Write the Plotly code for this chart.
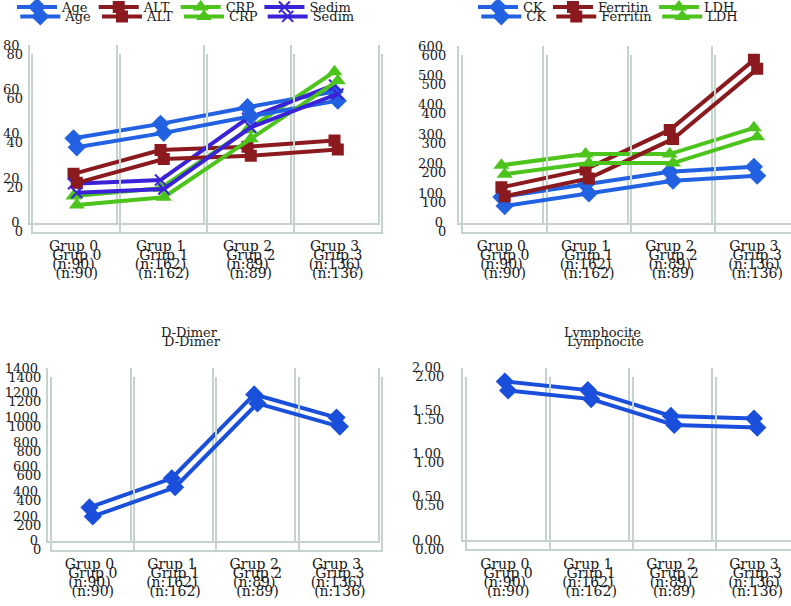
import plotly.graph_objects as go

W, H = 791, 606
FONT = "DejaVu Serif"
GRID = "#c4d4cc"

groups = ["Grup 0<br>(n:90)", "Grup 1<br>(n:162)", "Grup 2<br>(n:89)", "Grup 3<br>(n:136)"]

# Panel 1
age = [38, 44.5, 52, 59]
alt = [22, 32.7, 34.2, 37]
crp = [12, 15.5, 41.8, 68]
sedim = [17.5, 19.2, 47, 62]
# Panel 2
ck = [87, 130, 173, 190]
ferritin = [120, 181, 315, 553]
ldh = [195, 233, 233, 322]
# Panel 3
ddimer = [270, 507, 1188, 1000]
# Panel 4
lymph = [1.84, 1.74, 1.44, 1.41]

BLUE = "#2262e2"
RED = "#8b1a1f"
GREEN = "#4cc41c"
PURPLE = "#3a22d8"
DBLUE = "#1a4fdc"

panels = [
    dict(x0=30, x1=378, yt=45, yb=222.7, ymax=80, dtick=20, fmt="", standoff=6,
         series=[("Age", age, BLUE, "diamond", 14), ("ALT", alt, RED, "square", 12),
                 ("CRP", crp, GREEN, "triangle-up", 14), ("Sedim", sedim, PURPLE, "x-thin", 11)],
         title=None, legend=True, lx=12),
    dict(x0=459.3, x1=796, yt=46, yb=222.7, ymax=600, dtick=100, fmt="", standoff=12,
         series=[("CK", ck, BLUE, "diamond", 14), ("Ferritin", ferritin, RED, "square", 12),
                 ("LDH", ldh, GREEN, "triangle-up", 14)],
         title=None, legend=True, lx=473),
    dict(x0=48.3, x1=377.7, yt=368.3, yb=540.7, ymax=1400, dtick=200, fmt="", standoff=6,
         series=[("D-Dimer", ddimer, DBLUE, "diamond", 14)],
         title=("D-Dimer", 189, 332), legend=False),
    dict(x0=463.3, x1=795.5, yt=367.7, yb=540, ymax=2, dtick=0.5, fmt=".2f", standoff=18,
         series=[("Lymphocite", lymph, DBLUE, "diamond", 14)],
         title=("Lymphocite", 602, 332), legend=False),
]

OFFSETS = [(0, 0), (3.3, 9)]

fig = go.Figure()
layout = dict(width=W, height=H, margin=dict(l=0, r=0, t=0, b=0, autoexpand=False),
              paper_bgcolor="white", plot_bgcolor="rgba(0,0,0,0)", showlegend=True,
              font=dict(family=FONT, size=13, color="#1a1a1a"))
annotations = []
legend_count = 0

for ci, (dx, dy) in enumerate(OFFSETS):
    for pi, p in enumerate(panels):
        k = ci * 4 + pi + 1
        xs = "" if k == 1 else str(k)
        x0 = p["x0"] + dx
        x1 = p["x1"] + dx
        yt = p["yt"] + dy
        yb = p["yb"] + dy
        xend = min(x1, W)
        rng_end = -0.5 + 4 * (xend - x0) / (x1 - x0)
        right_inside = x1 <= W
        legname = None
        if p["legend"]:
            legend_count += 1
            legname = "legend" if legend_count == 1 else f"legend{legend_count}"
            layout[legname] = dict(
                orientation="h", x=(p["lx"] + dx) / W, xanchor="left",
                y=1 - (7 + dy * 1.05) / H, yanchor="middle", bgcolor="rgba(0,0,0,0)",
                font=dict(family=FONT, size=13, color="#1a1a1a"),
                itemwidth=40, tracegroupgap=0,
            )
        for name, vals, color, sym, msize in p["series"]:
            marker = dict(symbol=sym, size=msize, color=color)
            if sym == "x-thin":
                marker["line"] = dict(width=2, color=color)
            fig.add_trace(go.Scatter(
                x=groups, y=vals, name=name, mode="lines+markers",
                line=dict(color=color, width=4), marker=marker,
                xaxis="x" + xs, yaxis="y" + xs,
                showlegend=p["legend"], legend=legname if legname else "legend",
                hoverinfo="skip",
            ))
        layout["xaxis" + xs] = dict(
            domain=[x0 / W, xend / W], anchor="y" + xs, type="category",
            categoryorder="array", categoryarray=groups,
            range=[-0.5, rng_end], tickson="boundaries", showgrid=True,
            gridcolor=GRID, gridwidth=1.5, showline=True, linecolor=GRID, linewidth=1.5,
            ticks="", ticklabelstandoff=10, zeroline=False,
            tickfont=dict(family=FONT, size=14, color="#1a1a1a"),
        )
        layout["yaxis" + xs] = dict(
            domain=[1 - yb / H, 1 - yt / H], anchor="x" + xs,
            range=[0, p["ymax"]], dtick=p["dtick"], tick0=0, tickformat=p["fmt"],
            showgrid=False, zeroline=False, showline=True, linecolor=GRID, linewidth=1.5,
            mirror=right_inside, ticks="", ticklabelstandoff=p["standoff"],
            tickfont=dict(family=FONT, size=13, color="#1a1a1a"),
        )
        if p["title"]:
            t, tx, ty = p["title"]
            annotations.append(dict(
                text=t, x=(tx + dx) / W, y=1 - (ty + dy) / H, xref="paper", yref="paper",
                showarrow=False, xanchor="center", yanchor="middle",
                font=dict(family=FONT, size=13, color="#222222"),
            ))

layout["annotations"] = annotations
fig.update_layout(**layout)
fig.write_html("out.html", config={"displayModeBar": False},
               post_script="document.body.style.margin='0';")
